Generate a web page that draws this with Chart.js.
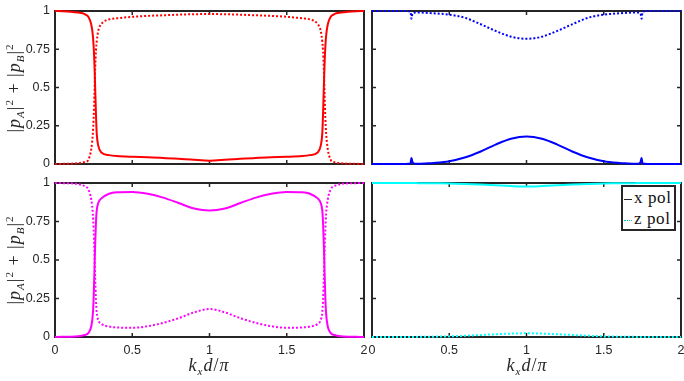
<!DOCTYPE html>
<html>
<head>
<meta charset="utf-8">
<script src="https://cdn.jsdelivr.net/npm/chart.js@4.4.1/dist/chart.umd.min.js"></script>
<style>
  body { margin: 0; background: #fff; width: 684px; height: 381px; position: relative; overflow: hidden; }
  canvas { position: absolute; }
  .ylab, .xlab { position: absolute; font-family: "Liberation Serif", serif; color: #262626; white-space: nowrap; }
  .ylab { font-size: 18px; transform: translate(-50%, -50%) rotate(-90deg); letter-spacing: 1px; }
  .xlab { font-size: 18px; transform: translate(-50%, -50%); letter-spacing: 1px; }
  sub, sup { font-size: 11px; line-height: 0; }
  #legend { position: absolute; left: 621px; top: 185px; width: 51px; height: 42px; border: 2px solid #262626;
            background: #fff; font-family: "Liberation Serif", serif; font-size: 17px; color: #111; letter-spacing: 0.6px; }
  #legend .row { position: absolute; left: 1px; height: 20px; line-height: 20px; }
  #legend .smp { display: inline-block; width: 8px; vertical-align: middle; margin-right: 2px; }
</style>
</head>
<body>
<canvas id="tl" width="368" height="175" style="left:0;top:0"></canvas>
<canvas id="tr" width="316" height="175" style="left:368px;top:0"></canvas>
<canvas id="bl" width="368" height="206" style="left:0;top:175px"></canvas>
<canvas id="br" width="316" height="206" style="left:368px;top:175px"></canvas>

<div class="ylab" style="left:14px;top:88px">|<i>p</i><sub><i>A</i></sub>|<sup>2</sup> + |<i>p</i><sub><i>B</i></sub>|<sup>2</sup></div>
<div class="ylab" style="left:14px;top:260px">|<i>p</i><sub><i>A</i></sub>|<sup>2</sup> + |<i>p</i><sub><i>B</i></sub>|<sup>2</sup></div>
<div class="xlab" style="left:209px;top:365px"><i>k</i><sub><i>x</i></sub><i>d</i>/<i>π</i></div>
<div class="xlab" style="left:527px;top:365px"><i>k</i><sub><i>x</i></sub><i>d</i>/<i>π</i></div>

<div id="legend">
  <div class="row" style="top:1px"><span class="smp" style="border-top:1.5px solid #262626"></span>x pol</div>
  <div class="row" style="top:22px"><span class="smp" style="border-top:1.5px dotted #00c8c8"></span>z pol</div>
</div>

<script>
// k_x d / pi sample positions (denser around the two transitions)
const kx = [0, 0.05, 0.1, 0.15, 0.18, 0.2, 0.215, 0.235, 0.245, 0.25, 0.255, 0.26, 0.265, 0.27, 0.28, 0.3, 0.35, 0.4,
            0.5, 0.6, 0.7, 0.8, 0.9, 1.0, 1.1, 1.2, 1.3, 1.4, 1.5,
            1.6, 1.65, 1.7, 1.72, 1.73, 1.735, 1.74, 1.745, 1.75, 1.755, 1.765, 1.785, 1.8, 1.82, 1.85, 1.9, 1.95, 2.0];

// top left (red)
const redX = [1.0, 0.998, 0.995, 0.99, 0.985, 0.975, 0.963, 0.91, 0.84, 0.77, 0.66, 0.5, 0.33, 0.2, 0.12, 0.075, 0.058, 0.052,
              0.047, 0.044, 0.04, 0.034, 0.027, 0.022, 0.027, 0.034, 0.04, 0.044, 0.047,
              0.052, 0.058, 0.075, 0.12, 0.2, 0.33, 0.5, 0.66, 0.77, 0.84, 0.91, 0.963, 0.975, 0.985, 0.99, 0.995, 0.998, 1.0];
const redZ = [0, 0.001, 0.002, 0.005, 0.01, 0.015, 0.026, 0.1, 0.2, 0.3, 0.45, 0.62, 0.74, 0.8, 0.87, 0.915, 0.945, 0.952,
              0.962, 0.968, 0.972, 0.976, 0.979, 0.98, 0.979, 0.976, 0.972, 0.968, 0.962,
              0.952, 0.945, 0.915, 0.87, 0.8, 0.74, 0.62, 0.45, 0.3, 0.2, 0.1, 0.026, 0.015, 0.01, 0.005, 0.002, 0.001, 0];

// top right (blue)
const blueX = [0, 0, 0, 0, 0, 0, 0, 0.001, 0.003, 0.008, 0.04, 0.02, 0.008, 0.004, 0.002, 0.002, 0.004, 0.007,
               0.018, 0.042, 0.08, 0.127, 0.165, 0.18, 0.165, 0.127, 0.08, 0.042, 0.018,
               0.007, 0.004, 0.002, 0.002, 0.004, 0.008, 0.02, 0.04, 0.008, 0.003, 0.001, 0, 0, 0, 0, 0, 0, 0];
const blueZ = [1, 1, 1, 1, 1, 1, 1, 0.999, 0.997, 0.99, 0.95, 0.975, 0.985, 0.988, 0.99, 0.99, 0.988, 0.985,
               0.976, 0.956, 0.915, 0.87, 0.832, 0.818, 0.832, 0.87, 0.915, 0.956, 0.976,
               0.985, 0.988, 0.99, 0.99, 0.988, 0.985, 0.975, 0.95, 0.99, 0.997, 0.999, 1, 1, 1, 1, 1, 1, 1];

// bottom left (magenta)
const magX = [0, 0.001, 0.002, 0.005, 0.01, 0.015, 0.025, 0.07, 0.15, 0.25, 0.42, 0.6, 0.74, 0.82, 0.87, 0.9, 0.93, 0.94,
              0.942, 0.93, 0.905, 0.87, 0.835, 0.822, 0.835, 0.87, 0.905, 0.93, 0.942,
              0.94, 0.93, 0.9, 0.87, 0.82, 0.74, 0.6, 0.42, 0.25, 0.15, 0.07, 0.025, 0.015, 0.01, 0.005, 0.002, 0.001, 0];
const magZ = [1, 0.999, 0.998, 0.993, 0.985, 0.975, 0.96, 0.89, 0.8, 0.7, 0.55, 0.38, 0.24, 0.16, 0.11, 0.085, 0.068, 0.062,
              0.06, 0.07, 0.092, 0.122, 0.16, 0.182, 0.16, 0.122, 0.092, 0.07, 0.06,
              0.062, 0.068, 0.085, 0.11, 0.16, 0.24, 0.38, 0.55, 0.7, 0.8, 0.89, 0.96, 0.975, 0.985, 0.993, 0.998, 0.999, 1];

// bottom right (cyan)
const cyanX = [1, 1, 1, 1, 1, 1, 1, 1, 1, 1, 1, 1, 1, 1, 1, 0.999, 0.999, 0.998,
               0.997, 0.994, 0.99, 0.985, 0.98, 0.977, 0.98, 0.985, 0.99, 0.994, 0.997,
               0.998, 0.999, 0.999, 1, 1, 1, 1, 1, 1, 1, 1, 1, 1, 1, 1, 1, 1, 1];
const cyanZ = [0, 0, 0, 0, 0, 0, 0, 0, 0, 0, 0, 0, 0, 0, 0, 0.001, 0.001, 0.002,
               0.004, 0.008, 0.013, 0.018, 0.022, 0.024, 0.022, 0.018, 0.013, 0.008, 0.004,
               0.002, 0.001, 0.001, 0, 0, 0, 0, 0, 0, 0, 0, 0, 0, 0, 0, 0, 0, 0];

const xTicks = [0, 0.5, 1, 1.5, 2];
const yTicks = [0, 0.25, 0.5, 0.75, 1];

const AXIS = '#262626';

// box round the plot with inward ticks on all four sides
const boxPlugin = {
  id: 'box',
  beforeDatasetsDraw(chart) {
    const { ctx, chartArea: a, scales: { x, y } } = chart;
    ctx.save();
    ctx.strokeStyle = AXIS;
    ctx.lineWidth = 1.5;
    ctx.beginPath();
    xTicks.forEach(v => {
      const px = x.getPixelForValue(v);
      ctx.moveTo(px, a.bottom); ctx.lineTo(px, a.bottom - 4);
      ctx.moveTo(px, a.top); ctx.lineTo(px, a.top + 4);
    });
    yTicks.forEach(v => {
      const py = y.getPixelForValue(v);
      ctx.moveTo(a.left, py); ctx.lineTo(a.left + 4, py);
      ctx.moveTo(a.right, py); ctx.lineTo(a.right - 4, py);
    });
    ctx.stroke();
    ctx.lineWidth = 2;
    ctx.strokeRect(a.left, a.top, a.right - a.left, a.bottom - a.top);
    ctx.restore();
  }
};

function points(ys) {
  return kx.map((x, i) => ({ x: x, y: ys[i] }));
}

function makePanel(id, solid, dotted, color, left, bottom) {
  const h = bottom ? 206 : 175;
  const top = bottom ? 8 : 11;
  const plotBottom = bottom ? 162 : 164;
  const line = { borderWidth: 2, pointRadius: 0, cubicInterpolationMode: 'monotone', clip: false };
  return new Chart(document.getElementById(id), {
    type: 'line',
    data: {
      datasets: [
        { ...line, label: 'x pol', data: points(solid), borderColor: color },
        { ...line, label: 'z pol', data: points(dotted), borderColor: color, borderDash: [2, 2] }
      ]
    },
    options: {
      responsive: false,
      animation: false,
      layout: { padding: { left: 0, right: left ? 4 : 3, top: top, bottom: 0 } },
      plugins: { legend: { display: false }, tooltip: { enabled: false } },
      scales: {
        x: {
          type: 'linear', min: 0, max: 2,
          grid: { display: false, drawTicks: false }, border: { display: false },
          afterBuildTicks: s => { s.ticks = xTicks.map(v => ({ value: v })); },
          afterFit: s => { s.height = h - plotBottom; s.paddingLeft = 0; s.paddingRight = 0; },
          ticks: { display: bottom, padding: 6, color: AXIS, maxRotation: 0, autoSkip: false,
                   font: { family: 'Liberation Sans', size: 12.5 }, callback: v => String(v) }
        },
        y: {
          min: 0, max: 1,
          grid: { display: false, drawTicks: false }, border: { display: false },
          afterBuildTicks: s => { s.ticks = yTicks.map(v => ({ value: v })); },
          afterFit: s => { s.width = left ? 55 : 4; s.paddingTop = 0; s.paddingBottom = 0; },
          ticks: { display: left, padding: 5, color: AXIS,
                   font: { family: 'Liberation Sans', size: 12.5 }, callback: v => String(v) }
        }
      }
    },
    plugins: [boxPlugin]
  });
}

makePanel('tl', redX, redZ, '#ff0000', true, false);
makePanel('tr', blueX, blueZ, '#0000ff', false, false);
makePanel('bl', magX, magZ, '#ff00ff', true, true);
makePanel('br', cyanX, cyanZ, '#00ffff', false, true);
</script>
</body>
</html>
